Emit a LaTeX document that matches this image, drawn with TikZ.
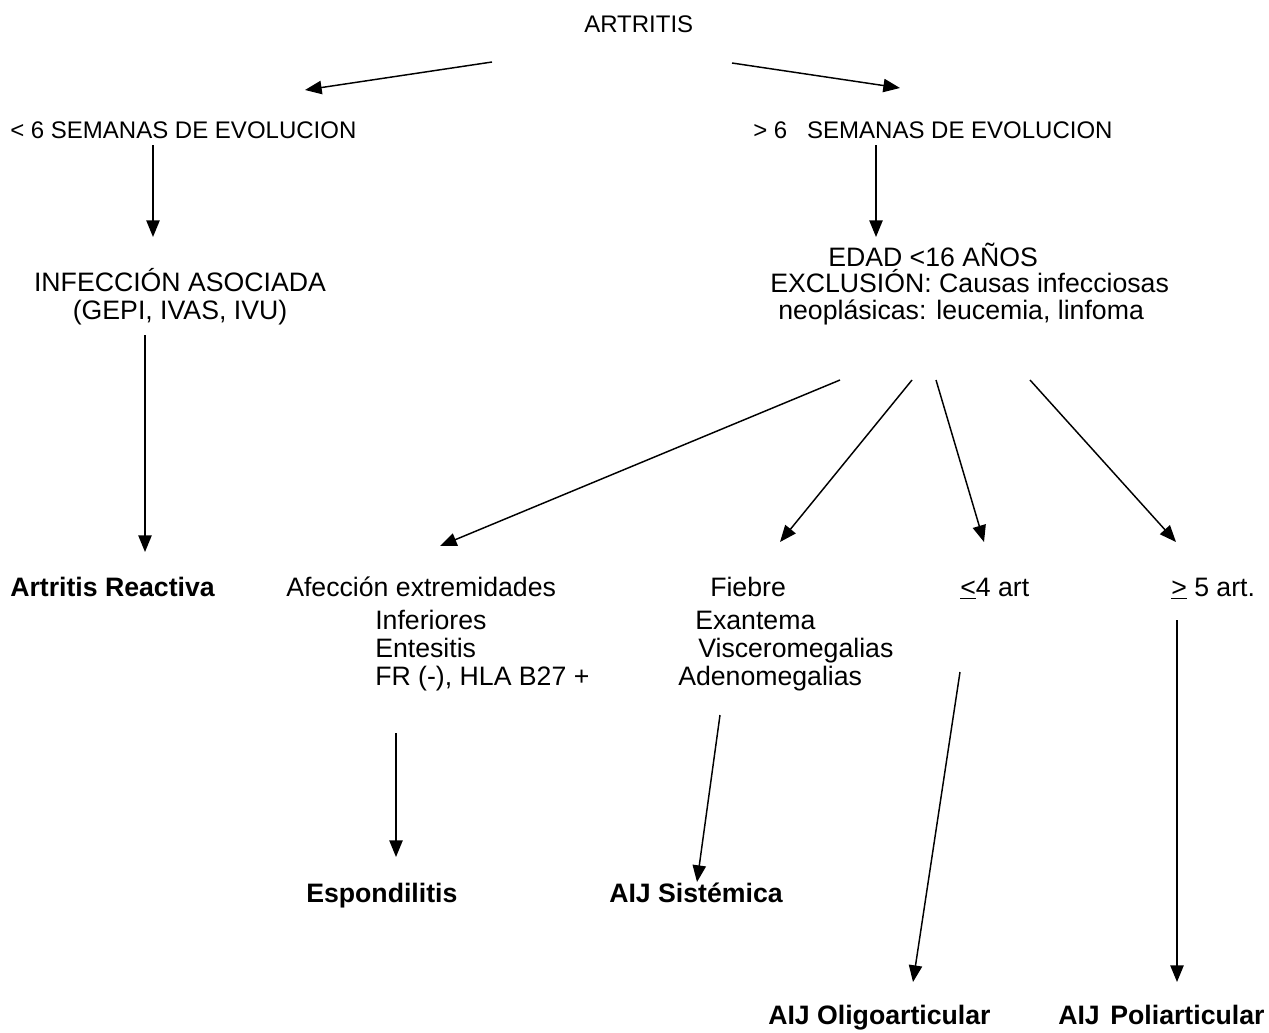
\documentclass[tikz,border=0pt]{standalone}
\usepackage{fontspec}
\setmainfont{Liberation Sans}
\usetikzlibrary{arrows.meta}
\begin{document}
\begin{tikzpicture}[x=0.75pt,y=-0.75pt,
  txt/.style={anchor=base west,inner sep=0pt,font=\fontsize{18}{22}\selectfont},
  ltxt/.style={anchor=base west,inner sep=0pt,font=\fontsize{20}{24}\selectfont},
  ctxt/.style={ltxt,anchor=base},
  btxt/.style={ltxt,font=\fontsize{20}{24}\selectfont\bfseries},
  arr/.style={line width=1.1pt,-{Triangle[length=12.5pt,width=10pt]}}]
\useasboundingbox[fill=white] (0,0) rectangle (1269,1032);
% top
\node[txt] (artritis) at (584,32) {ARTRITIS};
\node[txt] (menos) at (10,138) {< 6 SEMANAS DE EVOLUCION};
\node[txt] (mas) at (753,138) {> 6\hspace{0.55em} SEMANAS DE EVOLUCION};
\node[ctxt] (inf1) at (180,291) {INFECCIÓN ASOCIADA};
\node[ctxt] (inf2) at (180,319) {(GEPI, IVAS, IVU)};
\node[ltxt] (edad1) at (828,266) {EDAD <16 AÑOS};
\node[ltxt] (edad2) at (770,292) {EXCLUSIÓN: Causas infecciosas};
\node[ltxt] (edad3) at (778,319) {neoplásicas: leucemia, linfoma};
% middle row
\node[btxt] (reactiva) at (10,596) {Artritis Reactiva};
\node[ltxt] (afec1) at (286,596) {Afección extremidades};
\node[ltxt] (afec2) at (375,629) {Inferiores};
\node[ltxt] (afec3) at (375,657) {Entesitis};
\node[ltxt] (afec4) at (375,685) {FR (-), HLA B27 +};
\node[ltxt] (fie1) at (710,596) {Fiebre};
\node[ltxt] (fie2) at (695,629) {Exantema};
\node[ltxt] (fie3) at (698,657) {Visceromegalias};
\node[ltxt] (fie4) at (678,685) {Adenomegalias};
\node[ltxt] (oligo) at (960,596) {\underline{<}4 art};
\node[ltxt] (poli) at (1171,596) {\underline{>} 5 art.};
% bottom
\node[btxt] (espon) at (306,902) {Espondilitis};
\node[btxt] (sist) at (609,902) {AIJ Sistémica};
\node[btxt] (aijo) at (768,1024) {AIJ Oligoarticular};
\node[btxt] (aijp) at (1058,1024) {AIJ\hspace{0.12em} Poliarticular};
% connector end points
\coordinate (a1s) at (492,62); \coordinate (a1e) at (305,90);
\coordinate (a2s) at (732,63); \coordinate (a2e) at (900,88);
\coordinate (b1s) at (153,145); \coordinate (b1e) at (153,237);
\coordinate (b2s) at (876,145); \coordinate (b2e) at (876,237);
\coordinate (c1s) at (145,335); \coordinate (c1e) at (145,552);
\coordinate (d1s) at (840,380); \coordinate (d1e) at (440,546);
\coordinate (d2s) at (912,380); \coordinate (d2e) at (780,542);
\coordinate (d3s) at (936,380); \coordinate (d3e) at (984,542);
\coordinate (d4s) at (1030,380); \coordinate (d4e) at (1176,542);
\coordinate (e1s) at (396,733); \coordinate (e1e) at (396,857);
\coordinate (e2s) at (720,715); \coordinate (e2e) at (697,882);
\coordinate (e3s) at (960,672); \coordinate (e3e) at (913,982);
\coordinate (e4s) at (1177,620); \coordinate (e4e) at (1177,982);
\foreach \s/\e in {a1s/a1e,a2s/a2e,b1s/b1e,b2s/b2e,c1s/c1e,d1s/d1e,d2s/d2e,d3s/d3e,d4s/d4e,e1s/e1e,e2s/e2e,e3s/e3e,e4s/e4e}
  \draw[arr] (\s) -- (\e);
\end{tikzpicture}
\end{document}
